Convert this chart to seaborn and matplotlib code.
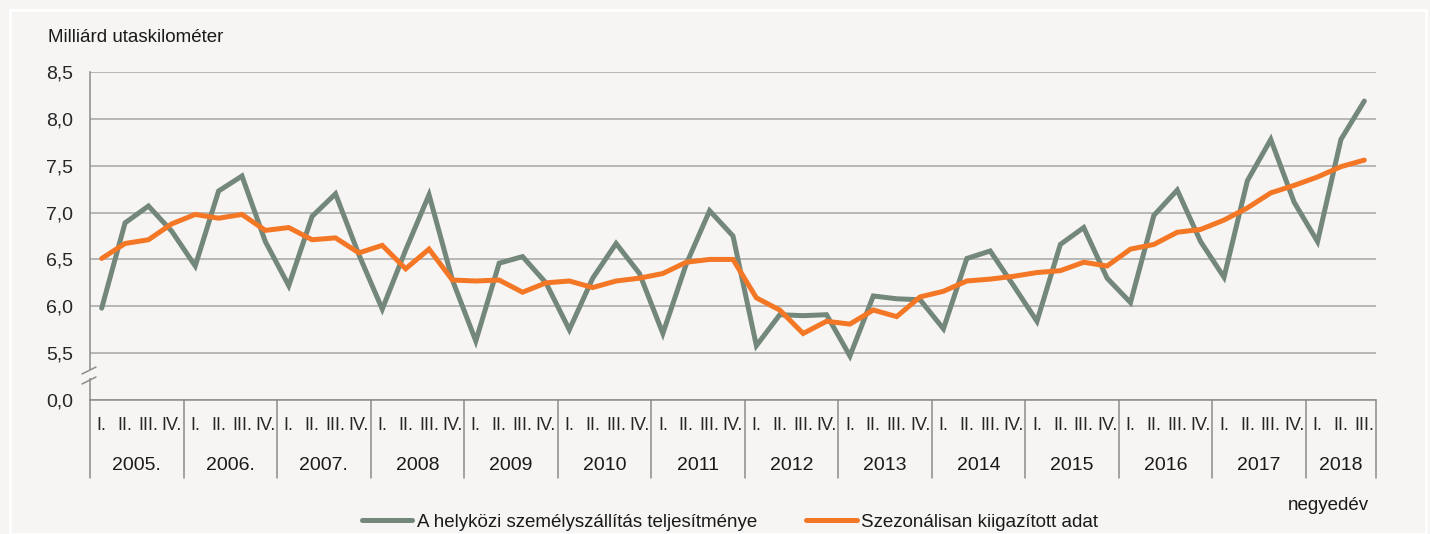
import numpy as np
import pandas as pd
import seaborn as sns
import matplotlib.pyplot as plt
from matplotlib.lines import Line2D
import matplotlib.transforms as mtransforms

# adatok (negyedéves, 2005 I. - 2018 III.)
evek = ["2005.", "2006.", "2007.", "2008", "2009", "2010", "2011",
        "2012", "2013", "2014", "2015", "2016", "2017", "2018"]
negyedevek = ["I.", "II.", "III.", "IV."]

teljesitmeny = [5.98, 6.89, 7.07, 6.80, 6.43, 7.23, 7.39, 6.69, 6.22, 6.96,
                7.20, 6.55, 5.97, 6.60, 7.19, 6.28, 5.63, 6.46, 6.53, 6.25,
                5.75, 6.30, 6.67, 6.35, 5.71, 6.45, 7.02, 6.75, 5.58, 5.91,
                5.90, 5.91, 5.47, 6.11, 6.08, 6.07, 5.76, 6.51, 6.59, 6.22,
                5.84, 6.66, 6.84, 6.30, 6.04, 6.97, 7.24, 6.69, 6.31, 7.34,
                7.78, 7.11, 6.69, 7.78, 8.19]
kiigazitott = [6.51, 6.67, 6.71, 6.88, 6.98, 6.94, 6.98, 6.81, 6.84, 6.71,
               6.73, 6.57, 6.65, 6.40, 6.61, 6.28, 6.27, 6.28, 6.15, 6.25,
               6.27, 6.20, 6.27, 6.30, 6.35, 6.47, 6.50, 6.50, 6.09, 5.96,
               5.71, 5.84, 5.81, 5.96, 5.89, 6.10, 6.16, 6.27, 6.29, 6.32,
               6.36, 6.38, 6.47, 6.43, 6.61, 6.66, 6.79, 6.82, 6.92, 7.05,
               7.21, 7.29, 7.38, 7.49, 7.56]

nev1 = "A helyközi személyszállítás teljesítménye"
nev2 = "Szezonálisan kiigazított adat"
szin1 = "#74877b"
szin2 = "#f47726"
hatter = "#f6f5f3"
racs = "#a6a6a6"

n = len(teljesitmeny)
df = pd.DataFrame({
    "x": list(range(n)) * 2,
    "ertek": teljesitmeny + kiigazitott,
    "sor": [nev1] * n + [nev2] * n,
})

sns.set_theme(style="white")
plt.rcParams['font.family'] = ['Liberation Sans Narrow', 'Liberation Sans', 'DejaVu Sans']
plt.rcParams['text.color'] = "#1a1a1a"

fig = plt.figure(figsize=(14.3, 5.34), dpi=100)
fig.patch.set_facecolor(hatter)
W, H = 1430, 534
ax = fig.add_axes([90 / W, (H - 400) / H, 1286 / W, 328 / H])
ax.set_facecolor(hatter)

sns.lineplot(data=df, x="x", y="ertek", hue="sor", palette=[szin1, szin2],
             linewidth=3.6, legend=False, ax=ax)
for l in ax.lines:
    l.set_solid_joinstyle("miter")

ax.set_xlim(-0.5, n - 0.5)
ax.set_ylim(5.0, 8.5)
yt = [5.0, 5.5, 6.0, 6.5, 7.0, 7.5, 8.0, 8.5]
ax.set_yticks(yt)
ax.set_yticklabels(["0,0"] + [f"{v:.1f}".replace(".", ",") for v in yt[1:]], fontsize=14)
ax.yaxis.grid(True, color=racs, linewidth=1.1)
ax.set_axisbelow(True)
ax.tick_params(axis="y", length=0, pad=12)

qlab = [negyedevek[i % 4] for i in range(n)]
ax.set_xticks(range(n))
ax.set_xticklabels(qlab, fontsize=13)
ax.tick_params(axis="x", length=0, pad=12)
ax.set_xlabel("")
ax.set_ylabel("")

for s in ["top", "right"]:
    ax.spines[s].set_visible(False)
for s in ["left", "bottom"]:
    ax.spines[s].set_color("#8c8c8c")
    ax.spines[s].set_linewidth(1.1)

# évek és elválasztó vonalak
tr = mtransforms.blended_transform_factory(ax.transData, ax.transAxes)
hatarok = [-0.5 + 4 * i for i in range(len(evek))] + [n - 0.5]
for xb in hatarok:
    ax.plot([xb, xb], [0, -78 / 328], transform=tr, color="#8c8c8c",
            linewidth=1.1, clip_on=False)
for i, ev in enumerate(evek):
    kozep = (hatarok[i] + hatarok[i + 1]) / 2
    ax.text(kozep, -65 / 328, ev, transform=tr, ha="center", va="center", fontsize=14)

# tengelytörés jele
ax.add_patch(plt.Rectangle((-8 / 1286, 22 / 328), 16 / 1286, 8 / 328, transform=ax.transAxes,
                           facecolor=hatter, edgecolor="none", clip_on=False, zorder=5))
for dy in [0, 10]:
    ax.plot([-8 / 1286, 6 / 1286], [(16 + dy) / 328, (23 + dy) / 328], transform=ax.transAxes,
            color="#8c8c8c", linewidth=1.1, clip_on=False, zorder=6)

fig.text(48 / W, 1 - 38 / H, "Milliárd utaskilométer", ha="left", va="center", fontsize=13.5)
fig.text(1328 / W, 1 - 505 / H, "negyedév", ha="center", va="center", fontsize=13.5)

kezelok = [Line2D([0], [0], color=szin1, linewidth=3.6, solid_capstyle="round"),
           Line2D([0], [0], color=szin2, linewidth=3.6, solid_capstyle="round")]
fig.legend(kezelok, [nev1, nev2], loc="center", bbox_to_anchor=(730 / W, 1 - 522 / H),
           ncol=2, frameon=False, fontsize=13.5, handlelength=2.7, handletextpad=0.25,
           columnspacing=2.6)

# fehér keret
fig.add_artist(plt.Rectangle((10 / W, 0), 1416 / W, 1 - 10 / H, transform=fig.transFigure,
                             fill=False, edgecolor="white", linewidth=2))

fig.savefig("out.png", dpi=100, facecolor=hatter)
